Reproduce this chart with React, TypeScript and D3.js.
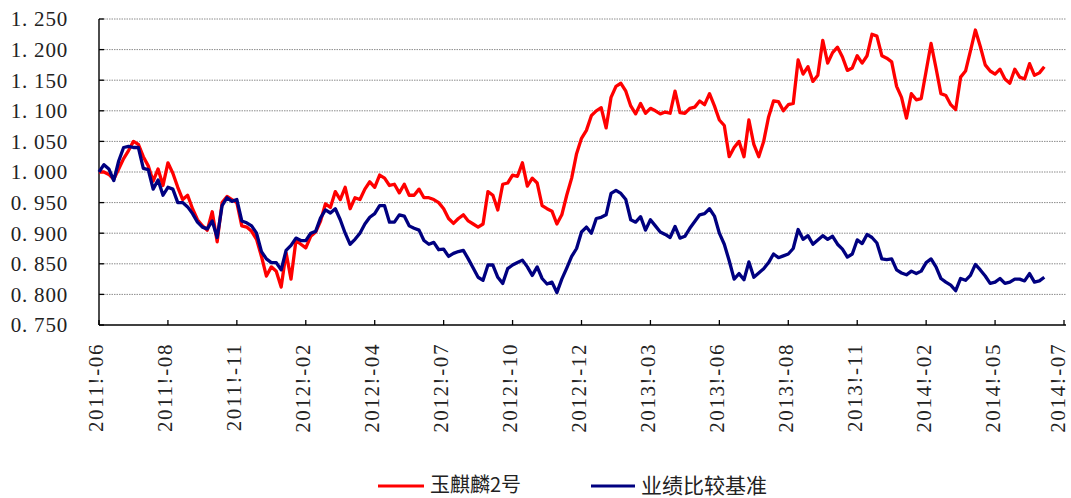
import * as React from 'react';
import * as d3 from 'd3';

const useMemo = React.useMemo;

// month labels on the category axis, one every 14 points
const tickLabels = [
  '2011!-06', '2011!-08', '2011!-11', '2012!-02', '2012!-04', '2012!-07', '2012!-10',
  '2012!-12', '2013!-03', '2013!-06', '2013!-08', '2013!-11', '2014!-02', '2014!-05', '2014!-07'
];
const yTicks = [0.75, 0.8, 0.85, 0.9, 0.95, 1.0, 1.05, 1.1, 1.15, 1.2, 1.25];

const fundName = '玉麒麟2号';
const benchName = '业绩比较基准';

const fundNav = [
  1.000, 1.000, 0.996, 0.988, 1.005, 1.022, 1.035, 1.050, 1.045, 1.025,
  1.010, 0.985, 1.005, 0.978, 1.015, 0.998, 0.975, 0.955, 0.962, 0.940,
  0.922, 0.912, 0.905, 0.935, 0.886, 0.950, 0.960, 0.955, 0.950, 0.912,
  0.910, 0.903, 0.890, 0.862, 0.830, 0.845, 0.838, 0.812, 0.868, 0.825,
  0.888, 0.882, 0.876, 0.895, 0.902, 0.920, 0.948, 0.942, 0.968, 0.955,
  0.975, 0.940, 0.958, 0.955, 0.972, 0.984, 0.975, 0.995, 0.990, 0.978,
  0.980, 0.966, 0.980, 0.962, 0.962, 0.972, 0.958, 0.958, 0.955, 0.950,
  0.940, 0.924, 0.916, 0.924, 0.930, 0.920, 0.915, 0.910, 0.915, 0.968,
  0.962, 0.938, 0.980, 0.982, 0.995, 0.993, 1.015, 0.977, 0.990, 0.982,
  0.945, 0.940, 0.936, 0.915, 0.930, 0.962, 0.990, 1.030, 1.055, 1.068,
  1.092, 1.100, 1.105, 1.072, 1.122, 1.140, 1.145, 1.132, 1.108, 1.095,
  1.112, 1.096, 1.104, 1.100, 1.095, 1.098, 1.096, 1.132, 1.097, 1.096,
  1.104, 1.106, 1.116, 1.110, 1.128, 1.108, 1.085, 1.076, 1.025, 1.040,
  1.050, 1.025, 1.085, 1.045, 1.025, 1.050, 1.090, 1.116, 1.115, 1.100,
  1.110, 1.112, 1.183, 1.160, 1.172, 1.148, 1.158, 1.215, 1.178, 1.195,
  1.204, 1.188, 1.166, 1.170, 1.190, 1.178, 1.190, 1.225, 1.222, 1.190,
  1.186, 1.180, 1.140, 1.122, 1.088, 1.128, 1.118, 1.120, 1.165, 1.210,
  1.170, 1.128, 1.125, 1.110, 1.102, 1.155, 1.165, 1.198, 1.232, 1.205,
  1.175, 1.165, 1.160, 1.168, 1.152, 1.145, 1.168, 1.155, 1.152, 1.177,
  1.158, 1.162, 1.172
];

const benchNav = [
  1.000, 1.012, 1.005, 0.986, 1.018, 1.040, 1.042, 1.040, 1.040, 1.006,
  1.004, 0.972, 0.987, 0.962, 0.975, 0.972, 0.950, 0.950, 0.943, 0.932,
  0.918, 0.910, 0.907, 0.920, 0.893, 0.945, 0.958, 0.952, 0.955, 0.920,
  0.917, 0.912, 0.900, 0.870, 0.858, 0.852, 0.852, 0.840, 0.872, 0.880,
  0.892, 0.888, 0.888, 0.900, 0.903, 0.925, 0.938, 0.933, 0.940, 0.922,
  0.900, 0.882, 0.890, 0.900, 0.915, 0.926, 0.932, 0.945, 0.945, 0.918,
  0.918, 0.930, 0.928, 0.912, 0.908, 0.905, 0.888, 0.882, 0.885, 0.873,
  0.874, 0.862, 0.867, 0.870, 0.872, 0.858, 0.843, 0.828, 0.823, 0.848,
  0.848, 0.828, 0.818, 0.842, 0.848, 0.852, 0.856, 0.845, 0.831, 0.845,
  0.826, 0.817, 0.820, 0.803, 0.825, 0.843, 0.862, 0.875, 0.902, 0.910,
  0.900, 0.924, 0.926, 0.930, 0.965, 0.970, 0.965, 0.955, 0.922, 0.918,
  0.927, 0.905, 0.922, 0.912, 0.902, 0.898, 0.893, 0.911, 0.892, 0.895,
  0.908, 0.919, 0.930, 0.932, 0.940, 0.928, 0.900, 0.882, 0.855, 0.825,
  0.834, 0.824, 0.853, 0.828, 0.835, 0.842, 0.852, 0.866, 0.860, 0.863,
  0.866, 0.875, 0.906, 0.890, 0.896, 0.882, 0.889, 0.896, 0.890, 0.895,
  0.882, 0.874, 0.861, 0.866, 0.889, 0.883, 0.898, 0.893, 0.884, 0.858,
  0.857, 0.858, 0.840, 0.835, 0.832, 0.838, 0.834, 0.838, 0.852, 0.858,
  0.845, 0.826, 0.820, 0.815, 0.806, 0.826, 0.823, 0.831, 0.849, 0.840,
  0.830, 0.818, 0.820, 0.826, 0.818, 0.820, 0.825, 0.825, 0.822, 0.834,
  0.820, 0.822, 0.828
];

const PER_TICK = 14;

export default function App() {
  const x = useMemo(
    () => d3.scaleLinear().domain([0, PER_TICK * (tickLabels.length - 1)]).range([99, 1064]),
    []
  );
  const y = useMemo(() => d3.scaleLinear().domain([0.75, 1.25]).range([325, 19]), []);
  const line = d3
    .line<number>()
    .x((_, i) => x(i))
    .y(d => y(d));
  const fmt = d3.format('.3f');
  const left = x.range()[0];
  const right = x.range()[1];

  return (
    <svg width="1071" height="498" style={{ position: 'absolute', left: 0, top: 0, background: '#fff' }}>
      {/* grid */}
      {yTicks.slice(1).map(t => (
        <line key={t} x1={left} x2={right + 2} y1={y(t)} y2={y(t)} stroke="#8c8c8c" strokeWidth="1" strokeDasharray="1.5,1" />
      ))}
      {/* y axis */}
      <g fontFamily="'Liberation Serif', serif" fontSize="21" fill="#222">
        {yTicks.map(t => {
          const s = fmt(t);
          return (
            <g key={t}>
              <line x1={left} x2={left + 5} y1={y(t)} y2={y(t)} stroke="#000" strokeWidth="1.3" />
              <text x={68} y={y(t)} dy="0.35em" textAnchor="end" letterSpacing="0.8">
                {s.slice(0, 2)}
                <tspan dx="6">{s.slice(2)}</tspan>
              </text>
            </g>
          );
        })}
      </g>
      <line x1={left} x2={left} y1={y(1.25)} y2={y(0.75)} stroke="#000" strokeWidth="1.4" />
      {/* x axis */}
      <line x1={left} x2={right + 2} y1={y(0.75)} y2={y(0.75)} stroke="#000" strokeWidth="1.4" />
      <g fontFamily="'Liberation Serif', serif" fontSize="21" fill="#222">
        {tickLabels.map((lab, k) => {
          const tx = x(k * PER_TICK);
          const lx = Math.min(tx - 2.5, 1058);
          return (
            <g key={lab}>
              <line x1={tx} x2={tx} y1={y(0.75)} y2={y(0.75) - 5} stroke="#000" strokeWidth="1.3" />
              <text
                transform={`translate(${lx},343) rotate(-90)`}
                dy="0.33em"
                textAnchor="end"
                letterSpacing="1.6"
              >
                {lab}
              </text>
            </g>
          );
        })}
      </g>
      {/* series */}
      <path d={line(fundNav) || ''} fill="none" stroke="#ff0000" strokeWidth="3.3" strokeLinejoin="round" />
      <path d={line(benchNav) || ''} fill="none" stroke="#000080" strokeWidth="3.3" strokeLinejoin="round" />
      {/* legend */}
      <g fontFamily="'Noto Sans CJK SC', sans-serif" fontSize="20" fill="#222">
        <line x1={378} x2={424} y1={486} y2={486} stroke="#ff0000" strokeWidth="3" />
        <text x={430} y={485} dy="0.36em">{fundName}</text>
        <line x1={591} x2={635} y1={486} y2={486} stroke="#000080" strokeWidth="3" />
        <text x={641} y={485} dy="0.36em" fontSize="21">{benchName}</text>
      </g>
    </svg>
  );
}
